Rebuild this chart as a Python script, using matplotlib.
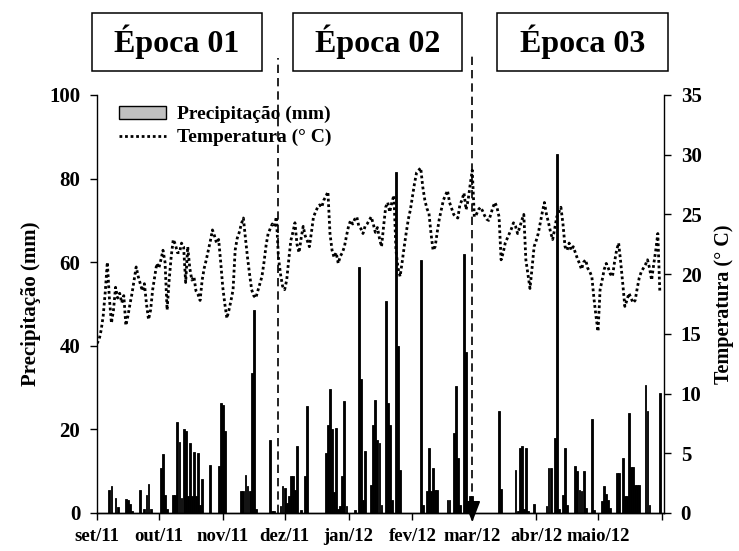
import numpy as np
import matplotlib
matplotlib.use("Agg")
import matplotlib.pyplot as plt
import matplotlib.transforms as mtransforms
from matplotlib.patches import Patch, Rectangle
from matplotlib.lines import Line2D

plt.rcParams['font.family'] = ['Liberation Serif', 'DejaVu Serif']
plt.rcParams['font.weight'] = 'bold'

# day index counted from 1 Sep 2011 (set/11) to 1 Jun 2012
month_starts = [0, 30, 61, 91, 122, 153, 182, 213, 243, 274]
month_labels = ['set/11', 'out/11', 'nov/11', 'dez/11', 'jan/12', 'fev/12',
                'mar/12', 'abr/12', 'maio/12', '']

# daily mean temperature (° C), one value per day from day 0 to day 273
temperature = [
    14.2, 14.5, 15.3, 16.5, 18.5, 21.0, 18.0, 15.9, 17.0, 18.9,
    18.0, 18.4, 17.6, 18.2, 15.7, 16.5, 17.5, 18.4, 19.5, 20.6,
    19.8, 19.2, 18.6, 19.2, 17.5, 16.2, 17.0, 18.7, 19.8, 20.9,
    20.5, 21.2, 22.0, 21.0, 17.0, 19.5, 21.5, 22.9, 22.5, 21.8,
    21.8, 22.6, 22.3, 19.3, 22.3, 20.5, 19.5, 19.8, 18.6, 18.3,
    17.8, 19.5, 20.5, 21.2, 22.0, 22.8, 23.7, 23.2, 22.6, 22.9,
    21.0, 18.9, 17.5, 16.3, 17.0, 17.8, 18.7, 22.0, 23.0, 23.5,
    24.2, 24.7, 23.0, 21.4, 20.0, 18.7, 18.2, 18.0, 18.6, 19.2,
    19.8, 21.0, 22.4, 23.4, 23.8, 24.2, 24.0, 24.8, 21.4, 20.0,
    19.0, 18.7, 19.5, 21.2, 22.8, 23.5, 24.3, 22.5, 21.8, 23.0,
    24.0, 23.2, 22.8, 22.3, 23.5, 24.8, 25.2, 25.6, 25.8, 25.6,
    26.2, 26.5, 26.9, 23.4, 22.0, 21.4, 21.8, 20.9, 21.5, 21.8,
    22.3, 23.2, 24.0, 24.5, 24.2, 24.6, 24.8, 24.0, 23.8, 23.4,
    24.0, 24.2, 24.5, 24.8, 24.2, 23.5, 23.9, 23.0, 22.3, 24.0,
    25.6, 26.0, 25.2, 26.0, 26.6, 22.0, 20.5, 19.8, 21.0, 22.3,
    23.5, 24.6, 25.4, 26.5, 27.6, 28.5, 28.7, 28.9, 27.3, 26.2,
    25.5, 25.1, 23.4, 22.0, 22.3, 23.5, 24.6, 25.4, 26.2, 26.6,
    27.0, 26.0, 25.5, 25.0, 24.8, 24.7, 25.8, 26.2, 26.8, 25.4,
    26.2, 27.5, 28.7, 24.8, 25.0, 25.4, 25.6, 25.3, 24.9, 24.6,
    24.5, 25.0, 25.6, 26.0, 25.6, 24.8, 21.2, 21.8, 22.6, 23.0,
    23.4, 23.8, 24.3, 24.0, 23.4, 23.9, 24.5, 25.0, 21.2, 20.0,
    18.8, 20.5, 22.3, 22.8, 23.4, 24.3, 25.2, 26.0, 25.0, 24.3,
    23.5, 22.9, 23.8, 24.8, 25.2, 25.6, 24.2, 22.3, 22.0, 22.6,
    22.0, 22.3, 21.8, 21.3, 20.9, 20.4, 21.0, 21.2, 20.5, 20.2,
    19.8, 18.0, 16.5, 15.2, 18.7, 19.5, 20.4, 20.9, 20.5, 20.0,
    19.8, 21.0, 22.0, 22.6, 21.0, 19.2, 17.3, 17.8, 18.4, 18.0,
    17.6, 17.8, 18.8, 19.7, 20.2, 20.5, 20.8, 21.2, 20.5, 19.5,
    20.8, 22.0, 23.4, 18.4,
]

# rainy days (day index) and their precipitation (mm)
rain_days = [
    6, 7, 9, 10, 14, 15, 16, 17, 21, 23, 24, 25, 26, 31, 32, 33, 34,
    37, 38, 39, 40, 41, 42, 43, 44, 45, 46, 47, 48, 49, 50, 51, 55,
    59, 60, 61, 62, 70, 71, 72, 73, 74, 75, 76, 77, 84, 85, 86,
    89, 90, 91, 92, 93, 94, 95, 96, 97, 99, 101, 102,
    111, 112, 113, 114, 115, 116, 117, 118, 119, 120, 121, 125,
    127, 128, 129, 130, 133, 134, 135, 136, 137, 138, 140, 141, 142,
    143, 145, 146, 147, 157, 158, 160, 161, 162, 163, 164, 165,
    170, 171, 173, 174, 175, 176, 178, 179, 180, 181, 182,
    195, 196, 203, 204, 205, 206, 207, 208, 209, 212,
    218, 219, 220, 222, 223, 224, 226, 227, 228,
    232, 233, 234, 235, 236, 237, 240, 241, 245, 246, 247, 248, 249,
    252, 253, 255, 256, 257, 258, 259, 260, 261, 262, 263,
    266, 267, 268, 273,
]
rain_mm = [
    5.5, 6.5, 3.5, 1.5, 3.3, 3.0, 2.2, 0.5, 5.5, 1.0, 4.4, 6.9, 1.0, 10.8, 14.1, 4.4, 1.0,
    4.4, 4.4, 21.7, 17.1, 3.6, 20.0, 19.5, 4.0, 16.7, 4.0, 14.7, 4.0, 14.4, 2.0, 8.1, 11.6,
    11.2, 26.3, 25.8, 19.5, 5.2, 5.2, 9.2, 6.4, 5.2, 33.5, 48.5, 1.0, 17.5, 0.5, 0.5,
    1.6, 6.4, 6.0, 2.4, 4.0, 8.9, 8.9, 5.6, 16.1, 0.8, 8.9, 25.5,
    14.4, 21.1, 29.7, 20.0, 5.0, 20.3, 1.0, 1.6, 8.8, 26.7, 1.6, 0.8,
    58.9, 32.0, 3.0, 14.8, 6.8, 21.1, 27.1, 17.5, 16.7, 2.0, 50.6, 26.3, 21.1,
    3.0, 81.5, 40.0, 10.4, 60.5, 2.0, 5.2, 15.6, 5.2, 10.8, 5.6, 5.5,
    3.2, 3.2, 19.1, 30.3, 13.2, 2.0, 62.0, 38.5, 1.0, 4.0, 4.0,
    24.3, 5.8, 10.4, 0.5, 15.6, 16.0, 1.0, 15.6, 0.5, 2.2,
    1.6, 10.8, 10.8, 17.9, 86.0, 1.0, 4.4, 15.6, 2.0,
    11.2, 10.0, 5.6, 5.2, 10.0, 1.2, 22.6, 0.8, 2.8, 6.4, 4.5, 3.2, 1.2,
    9.6, 9.6, 13.2, 4.0, 4.0, 24.0, 11.1, 11.1, 6.8, 6.8, 6.8,
    30.7, 24.3, 2.0, 28.7,
]

# sowing periods: label, box in figure pixels (left, top, right, bottom)
epocas = ['Época 01', 'Época 02', 'Época 03']
epoca_boxes = [(92, 13, 262, 71), (293, 13, 462, 71), (497, 13, 668, 71)]
epoca_limits = [88, 182]   # day of the dashed separators

W, H = 739, 551
fig = plt.figure(figsize=(W / 100, H / 100), dpi=100)
ax = fig.add_axes([97 / W, 1 - 513 / H, (664 - 97) / W, (513 - 95) / H])
ax2 = ax.twinx()

days = np.arange(len(temperature))
ax.bar(rain_days, rain_mm, width=0.9, color='black', edgecolor='black',
       linewidth=0.6, zorder=2)
ax2.plot(days, temperature, color='black', lw=2.0, linestyle=(0, (1, 1)), zorder=3)

ax.set_xlim(0, 275)
ax.set_ylim(0, 100)
ax2.set_ylim(0, 35)
ax.set_xticks(month_starts)
ax.set_xticklabels(month_labels, fontsize=13.5, fontweight='bold')
ax.set_yticks(range(0, 101, 20))
ax2.set_yticks(range(0, 36, 5))
ax.tick_params(axis='y', direction='out', length=5, width=1, pad=7, labelsize=15)
ax2.tick_params(axis='y', direction='out', length=5, width=1, pad=7, labelsize=15)
ax.tick_params(axis='x', direction='out', length=5, width=1, pad=6)

for a in (ax, ax2):
    a.spines['top'].set_visible(False)
    for s in a.spines.values():
        s.set_linewidth(1.0)
ax.spines['right'].set_visible(False)
ax2.spines['left'].set_visible(False)

ax.set_ylabel('Precipitação (mm)', fontsize=15, fontweight='bold', labelpad=6)
ax2.set_ylabel('Temperatura (° C)', fontsize=14.5, fontweight='bold', labelpad=9)

handles = [Patch(facecolor='#c0c0c0', edgecolor='black', linewidth=1),
           Line2D([], [], color='black', lw=2.0, linestyle=(0, (1, 1)))]
ax2.legend(handles, ['Precipitação (mm)', 'Temperatura (° C)'],
           loc='upper left', bbox_to_anchor=(119 / W, 1 - 106 / H),
           bbox_transform=fig.transFigure, frameon=False, borderaxespad=0,
           borderpad=0, handlelength=2.4, handleheight=0.6, handletextpad=0.6,
           labelspacing=0.3, prop={'size': 14, 'weight': 'bold'})

# dashed separators between sowing periods
trans = mtransforms.blended_transform_factory(ax.transData, ax.transAxes)
ax.plot([epoca_limits[0]] * 2, [0, 1.088], transform=trans, color='black',
        lw=1.2, linestyle=(0, (5, 3)), clip_on=False, zorder=4)
ax.plot([epoca_limits[1]] * 2, [0.02, 1.093], transform=trans, color='black',
        lw=1.2, linestyle=(0, (5, 3)), clip_on=False, zorder=4)
ax.annotate('', xy=(epoca_limits[1], -0.022), xytext=(epoca_limits[1], 0.03),
            xycoords=trans, textcoords=trans, annotation_clip=False,
            arrowprops=dict(arrowstyle='-|>,head_length=0.65,head_width=0.25',
                            color='black', lw=1.2, mutation_scale=20,
                            shrinkA=0, shrinkB=0))

for label, (x0, y0, x1, y1) in zip(epocas, epoca_boxes):
    fig.patches.append(Rectangle((x0 / W, 1 - y1 / H), (x1 - x0) / W, (y1 - y0) / H,
                                 transform=fig.transFigure, fill=False,
                                 edgecolor='black', linewidth=1.1))
    fig.text((x0 + x1) / 2 / W, 1 - (y0 + y1) / 2 / H, label, ha='center',
             va='center', fontsize=23, fontweight='bold')

fig.savefig('out.png', dpi=100)
